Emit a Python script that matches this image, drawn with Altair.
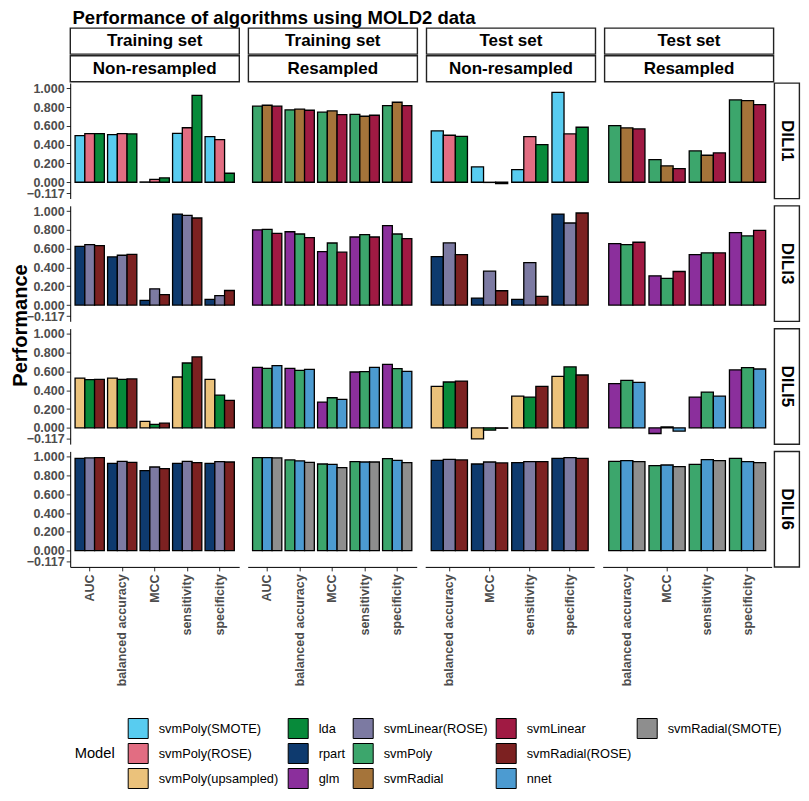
import altair as alt
import pandas as pd

FONT = "Liberation Sans"
LEG_FONT = "Liberation Sans Narrow, Arial Narrow, Liberation Sans"

ROW_LABELS = ["DILI1", "DILI3", "DILI5", "DILI6"]
COL_SET = ["Training set", "Training set", "Test set", "Test set"]
COL_SAMPLING = ["Non-resampled", "Resampled", "Non-resampled", "Resampled"]
TRAIN_METRICS = ["AUC", "balanced accuracy", "MCC", "sensitivity", "specificity"]
TEST_METRICS = ["balanced accuracy", "MCC", "sensitivity", "specificity"]
Y_TICKS = [-0.117, 0.0, 0.2, 0.4, 0.6, 0.8, 1.0]

MODEL_ORDER = ["svmPoly(SMOTE)", "svmPoly(ROSE)", "svmPoly(upsampled)", "lda", "rpart", "glm",
               "svmLinear(ROSE)", "svmPoly", "svmRadial", "svmLinear", "svmRadial(ROSE)", "nnet",
               "svmRadial(SMOTE)"]
MODEL_COLORS = ["#58CCF0", "#E26D82", "#EBC27B", "#078A3A", "#0E3A6E", "#8B2F9C",
                "#7C7AA2", "#3CA66C", "#A5743A", "#A01A43", "#7C2121", "#4C9BD1",
                "#8E8E8E"]

MODELS_DILI1_NR = ["svmPoly(SMOTE)", "svmPoly(ROSE)", "lda"]
MODELS_DILI1_R = ["svmPoly", "svmRadial", "svmLinear"]
MODELS_DILI3_NR = ["rpart", "svmLinear(ROSE)", "svmRadial(ROSE)"]
MODELS_DILI3_R = ["glm", "svmPoly", "svmLinear"]
MODELS_DILI5_NR = ["svmPoly(upsampled)", "lda", "svmRadial(ROSE)"]
MODELS_DILI5_R = ["glm", "svmPoly", "nnet"]
MODELS_DILI6_NR = ["rpart", "svmLinear(ROSE)", "svmRadial(ROSE)"]
MODELS_DILI6_R = ["svmPoly", "nnet", "svmRadial(SMOTE)"]

# values: one list per model, in metric order
DILI1_TRAIN_NR = [[0.496, 0.507, 0.003, 0.520, 0.486],
                  [0.518, 0.518, 0.030, 0.580, 0.454],
                  [0.518, 0.514, 0.046, 0.925, 0.096]]
DILI1_TRAIN_R = [[0.809, 0.770, 0.745, 0.723, 0.816],
                 [0.819, 0.777, 0.759, 0.702, 0.851],
                 [0.809, 0.766, 0.720, 0.713, 0.816]]
DILI1_TEST_NR = [[0.546, 0.163, 0.135, 0.957],
                 [0.500, -0.002, 0.486, 0.514],
                 [0.489, -0.014, 0.400, 0.585]]
DILI1_TEST_R = [[0.603, 0.241, 0.333, 0.876],
                [0.578, 0.174, 0.287, 0.869],
                [0.567, 0.145, 0.312, 0.826]]

DILI3_TRAIN_NR = [[0.625, 0.512, 0.050, 0.968, 0.060],
                  [0.643, 0.530, 0.173, 0.954, 0.100],
                  [0.633, 0.540, 0.110, 0.926, 0.155]]
DILI3_TRAIN_R = [[0.800, 0.780, 0.569, 0.724, 0.845],
                 [0.806, 0.756, 0.660, 0.749, 0.756],
                 [0.763, 0.717, 0.562, 0.724, 0.707]]
DILI3_TEST_NR = [[0.516, 0.074, 0.060, 0.968],
                 [0.661, 0.360, 0.452, 0.873],
                 [0.537, 0.152, 0.092, 0.979]]
DILI3_TEST_R = [[0.654, 0.311, 0.537, 0.770],
                [0.643, 0.283, 0.555, 0.735],
                [0.668, 0.357, 0.555, 0.795]]

DILI5_TRAIN_NR = [[0.530, 0.530, 0.068, 0.541, 0.516],
                  [0.512, 0.516, 0.036, 0.690, 0.349],
                  [0.516, 0.520, 0.050, 0.754, 0.292]]
DILI5_TRAIN_R = [[0.644, 0.633, 0.274, 0.594, 0.676],
                 [0.633, 0.612, 0.320, 0.598, 0.630],
                 [0.662, 0.623, 0.302, 0.644, 0.601]]
DILI5_TEST_NR = [[0.441, -0.117, 0.338, 0.548],
                 [0.488, -0.025, 0.327, 0.648],
                 [0.498, -0.004, 0.441, 0.562]]
DILI5_TEST_R = [[0.470, -0.060, 0.327, 0.616],
                [0.505, 0.010, 0.381, 0.640],
                [0.484, -0.035, 0.338, 0.626]]

DILI6_TRAIN_NR = [[0.982, 0.929, 0.851, 0.929, 0.929],
                  [0.986, 0.950, 0.890, 0.950, 0.947],
                  [0.989, 0.940, 0.872, 0.936, 0.943]]
DILI6_TRAIN_R = [[0.989, 0.965, 0.922, 0.947, 0.979],
                 [0.989, 0.954, 0.918, 0.943, 0.961],
                 [0.986, 0.940, 0.883, 0.943, 0.936]]
DILI6_TEST_NR = [[0.961, 0.922, 0.936, 0.982],
                 [0.972, 0.943, 0.947, 0.989],
                 [0.965, 0.933, 0.947, 0.982]]
DILI6_TEST_R = [[0.950, 0.904, 0.918, 0.982],
                [0.957, 0.911, 0.968, 0.947],
                [0.947, 0.894, 0.957, 0.936]]

PANELS = {
    (0, 0): (MODELS_DILI1_NR, DILI1_TRAIN_NR), (0, 1): (MODELS_DILI1_R, DILI1_TRAIN_R),
    (0, 2): (MODELS_DILI1_NR, DILI1_TEST_NR), (0, 3): (MODELS_DILI1_R, DILI1_TEST_R),
    (1, 0): (MODELS_DILI3_NR, DILI3_TRAIN_NR), (1, 1): (MODELS_DILI3_R, DILI3_TRAIN_R),
    (1, 2): (MODELS_DILI3_NR, DILI3_TEST_NR), (1, 3): (MODELS_DILI3_R, DILI3_TEST_R),
    (2, 0): (MODELS_DILI5_NR, DILI5_TRAIN_NR), (2, 1): (MODELS_DILI5_R, DILI5_TRAIN_R),
    (2, 2): (MODELS_DILI5_NR, DILI5_TEST_NR), (2, 3): (MODELS_DILI5_R, DILI5_TEST_R),
    (3, 0): (MODELS_DILI6_NR, DILI6_TRAIN_NR), (3, 1): (MODELS_DILI6_R, DILI6_TRAIN_R),
    (3, 2): (MODELS_DILI6_NR, DILI6_TEST_NR), (3, 3): (MODELS_DILI6_R, DILI6_TEST_R),
}

# ggplot-like 5% expansion of the y range
_all = [v for _, vals in PANELS.values() for row in vals for v in row]
_lo, _hi = min(min(_all), min(Y_TICKS)), max(max(_all), max(Y_TICKS))
Y_MIN = _lo - 0.05 * (_hi - _lo)
Y_MAX = _hi + 0.05 * (_hi - _lo)

W = 169
H = 115.5
COL_SP = 8.5
STRIP_H = 26
COLOR_SCALE = alt.Scale(domain=MODEL_ORDER, range=MODEL_COLORS)
GREY = "#4D4D4D"
YLAB = dict(labelFont=FONT, labelFontWeight="bold", labelFontSize=12.5, tickSize=4,
            labelPadding=2, labelOverlap=False, labelFlush=False, grid=False, title=None,
            format=".3f")


def panel(r, c):
    models, vals = PANELS[(r, c)]
    metrics = TRAIN_METRICS if c < 2 else TEST_METRICS
    recs = [{"metric": m, "model": mod, "value": v}
            for mod, vs in zip(models, vals) for m, v in zip(metrics, vs)]
    df = pd.DataFrame(recs)
    if r == 3:
        xaxis = alt.Axis(labelAngle=270, labelFont=FONT, labelFontWeight="bold", labelFontSize=12.5,
                         labelColor=GREY, tickColor="#333333", tickSize=4, domainColor="black",
                         domainWidth=1, labelPadding=3, title=None)
    else:
        xaxis = None
    if c == 0:
        yaxis = alt.Axis(values=Y_TICKS, labelColor=GREY, tickColor="#333333",
                         domainColor="black", domainWidth=1, **YLAB)
    else:
        yaxis = None
    return alt.Chart(df).mark_bar(stroke="black", strokeWidth=1.3).encode(
        x=alt.X("metric:N", scale=alt.Scale(domain=metrics, paddingInner=0.1, paddingOuter=0.15),
                axis=xaxis, title=None),
        xOffset=alt.XOffset("model:N", scale=alt.Scale(domain=models, paddingInner=0, paddingOuter=0)),
        y=alt.Y("value:Q", scale=alt.Scale(domain=[Y_MIN, Y_MAX], nice=False, zero=False),
                axis=yaxis, title=None),
        color=alt.Color("model:N", scale=COLOR_SCALE, legend=None),
    ).properties(width=W, height=H)


def strip(text, w, h, angle=0, size=17, dummy_axis=False):
    # dummy_axis: an invisible copy of the y axis so that column-1 strips line up with the panels
    df = pd.DataFrame({"label": [text], "v": [Y_TICKS[0]]})
    enc = dict(text="label:N")
    if dummy_axis:
        enc["y"] = alt.Y("v:Q", scale=alt.Scale(domain=[Y_TICKS[0] - 1, Y_TICKS[0] + 1]),
                         axis=alt.Axis(values=[Y_TICKS[0]], labelOpacity=0, tickOpacity=0,
                                       domainOpacity=0, domainWidth=1, **YLAB))
    return alt.Chart(df).mark_text(
        font=FONT, fontSize=size, fontWeight="bold", color="black", angle=angle
    ).encode(**enc).properties(
        width=w, height=h,
        view=alt.ViewBackground(fill="white", stroke="#222222", strokeWidth=1.4))


header = alt.hconcat(
    *[alt.vconcat(strip(COL_SET[c], W, STRIP_H, dummy_axis=(c == 0)),
                  strip(COL_SAMPLING[c], W, STRIP_H, dummy_axis=(c == 0)),
                  spacing=1.7, bounds="flush") for c in range(4)],
    spacing=COL_SP - 1.4)

grid_rows = []
for r in range(4):
    panels_row = alt.hconcat(*[panel(r, c) for c in range(4)], spacing=COL_SP).resolve_scale(
        xOffset="independent", x="independent")
    grid_rows.append(alt.hconcat(panels_row, strip(ROW_LABELS[r], 25, H, angle=90),
                                 spacing=1.1).resolve_scale(xOffset="independent", x="independent"))

rows_block = alt.vconcat(*grid_rows, spacing=4.8).resolve_scale(xOffset="independent", x="independent")
grid = alt.vconcat(header, rows_block, spacing=-5).resolve_scale(xOffset="independent", x="independent")

# legend: five columns filled top-to-bottom, like ggplot
LEGEND_COLUMNS = [MODEL_ORDER[0:3], MODEL_ORDER[3:6], MODEL_ORDER[6:9], MODEL_ORDER[9:12], MODEL_ORDER[12:13]]
LEGEND_X = [4.5, 217.5, 282.5, 425.5, 566.5]
legend_df = pd.DataFrame({"model": MODEL_ORDER})
legend_layers = []
for i, mods in enumerate(LEGEND_COLUMNS):
    cols = [MODEL_COLORS[MODEL_ORDER.index(m)] for m in mods]
    opts = dict(orient="none", legendX=LEGEND_X[i], legendY=0, symbolType="square", symbolSize=400,
                symbolStrokeColor="black", symbolStrokeWidth=1, symbolOpacity=1,
                labelFont=LEG_FONT, labelFontSize=12.8, labelColor="black", rowPadding=0,
                labelOffset=10, padding=0)
    if i == 0:
        opts.update(title="Model", titleOrient="left", titleFont=LEG_FONT,
                    titleFontSize=14.7, titleFontWeight="normal", titleColor="black",
                    titleAnchor="middle", titleBaseline="middle", titlePadding=12)
    else:
        opts.update(title=None)
    legend_layers.append(
        alt.Chart(legend_df).transform_filter("false").mark_square(stroke="black", strokeWidth=1).encode(
            color=alt.Color("model:N", scale=alt.Scale(domain=mods, range=cols), legend=alt.Legend(**opts))
        ))
legend_chart = alt.layer(*legend_layers).resolve_scale(color="independent").properties(width=700, height=40)

main = alt.vconcat(grid, legend_chart, spacing=32).resolve_scale(
    color="independent", xOffset="independent", x="independent")

ytitle = alt.Chart(pd.DataFrame({"label": ["Performance"]})).mark_text(
    font=FONT, fontSize=20, fontWeight="bold", color="black", angle=270
).encode(text="label:N").properties(width=16, height=595)

chart = alt.hconcat(ytitle, main, spacing=-5.8).resolve_scale(
    color="independent", xOffset="independent", x="independent").properties(
    padding={"left": 3, "top": 0, "right": 0, "bottom": 0},
    title=alt.TitleParams("Performance of algorithms using MOLD2 data", anchor="start", font=FONT,
                          fontSize=18.5, fontWeight="bold", color="black", dx=61.5, offset=0),
).configure_view(stroke=None)

chart.save("out.html", embed_options={"renderer": "svg", "actions": False})
